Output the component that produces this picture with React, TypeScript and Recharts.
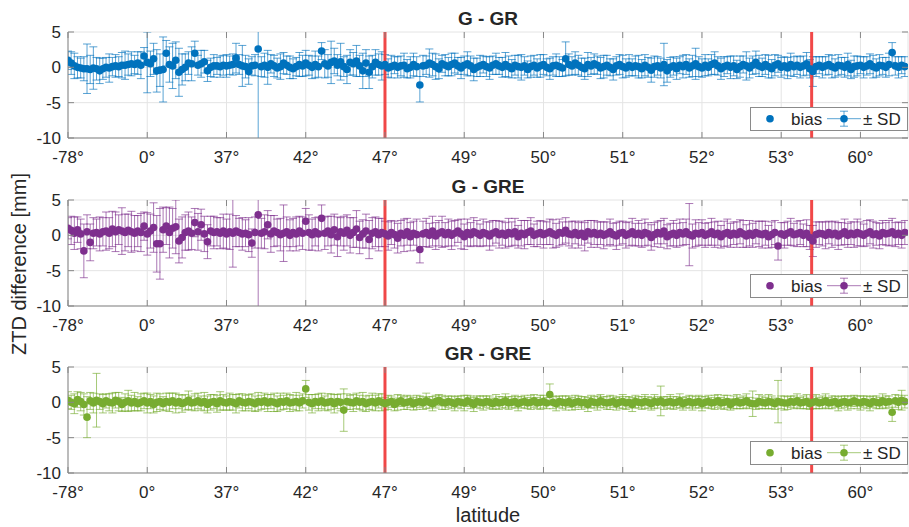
import React from 'react';
import {
  ComposedChart,
  Scatter,
  ErrorBar,
  XAxis,
  YAxis,
  CartesianGrid,
  ReferenceLine,
} from 'recharts';

// station index -> latitude label (every 25th station)
const tickIdx = [1, 26, 51, 76, 101, 126, 151, 176, 201, 226, 251];
const tickLabels = ['-78°', '0°', '37°', '42°', '47°', '49°', '50°', '51°', '52°', '53°', '60°'];
const yTicks = [-10, -5, 0, 5];
const splitIdx = [101, 235.6];
const titles = ['G - GR', 'G - GRE', 'GR - GRE'];
const colors = ['#0072BD', '#7E2F8E', '#77AC30'];

// G - GR
const biasGGR = [
  1.0, 0.6, 0.2, 0.0, -0.1, -0.2, -0.2, -0.3, -0.1, -0.2,
  -0.5, -0.2, 0.0, -0.1, 0.1, 0.2, 0.1, 0.3, 0.3, 0.4,
  0.5, 0.4, 0.6, 0.3, 1.6, 0.7, 0.5, 1.2, -0.5, -0.4,
  -0.3, 2.0, 0.4, 0.2, 1.0, -0.7, -0.3, 0.0, 0.6, 0.5,
  2.0, 0.3, 0.5, 0.8, -0.5, 0.0, 0.2, 0.2, 0.1, 0.3,
  0.2, 0.3, 0.4, 1.3, 0.4, 0.2, 0.1, -0.6, 0.2, 0.3,
  2.6, 0.1, 0.3, 0.0, 0.5, 0.2, -0.1, 0.1, 0.6, 0.3,
  0.0, -0.2, 0.1, 0.4, 0.2, 0.6, 0.3, 0.0, 0.4, 0.1,
  2.3, 0.5, 0.2, 0.7, 0.9, 0.3, 0.8, 0.1, -0.3, 0.7,
  0.5, 0.9, 0.2, -0.5, 0.6, -0.7, 0.1, 0.7, 0.4, 0.2,
  0.4, -0.1, 0.1, 0.3, 0.0, 0.2, 0.3, -0.2, 0.0, 0.4,
  0.1, -2.5, 0.2, 0.3, 0.6, 0.4, 0.1, -0.2, 0.5, 0.3,
  0.1, 0.4, 0.6, 0.2, -0.1, 0.3, 0.5, 0.2, -0.3, 0.0,
  0.2, 0.4, 0.1, -0.1, 0.3, 0.5, 0.2, 0.0, 0.4, 0.1,
  -0.2, 0.3, 0.1, 0.0, 0.2, -0.3, 0.1, 0.3, -0.1, 0.2,
  0.4, 0.0, -0.2, 0.2, 0.3, 0.1, -0.1, 1.2, 0.4, 0.2,
  0.6, 0.3, 0.0, -0.2, 0.4, 0.2, 0.5, 0.3, -0.1, 0.1,
  0.3, 0.0, -0.3, 0.2, 0.4, 0.1, -0.1, 0.3, 0.0, 0.2,
  0.1, -0.2, 0.3, 0.0, -0.4, 0.1, 0.2, -0.1, 0.4, -0.5,
  0.0, 0.2, -0.2, 0.3, 0.1, 0.4, -0.1, 0.2, 0.5, 0.1,
  -0.1, 0.3, 0.0, 0.4, 0.6, 0.2, -0.2, 0.1, 0.3, 0.0,
  0.2, -0.3, 0.1, 0.4, 0.2, -0.1, 0.3, 0.7, 0.2, 0.0,
  0.4, 0.1, -0.2, 0.3, 0.5, 0.0, 0.2, -0.1, 0.4, 0.1,
  0.3, 0.0, 0.2, 0.5, -0.2, -0.6, 0.1, 0.3, 0.0, 0.2,
  0.4, 0.1, -0.1, 0.3, 0.2, 0.0, 0.4, -0.3, 0.1, 0.2,
  0.3, 0.0, 0.2, 0.5, 0.1, -0.1, 0.3, 0.2, 0.0, 0.4,
  2.1, 0.2, 0.0, 0.3, 0.1,
];
const sdGGR = [
  1.3, 1.6, 1.8, 1.5, 1.4, 1.7, 3.5, 2.0, 3.0, 1.6,
  1.8, 1.5, 1.4, 2.0, 1.3, 1.6, 1.4, 1.8, 2.0, 1.5,
  1.7, 1.3, 1.6, 1.9, 1.2, 4.3, 1.8, 2.2, 3.0, 2.3,
  4.6, 1.8, 2.5, 3.2, 2.6, 3.4, 2.2, 1.9, 1.6, 2.4,
  1.7, 1.4, 1.9, 1.6, 1.5, 1.3, 1.6, 1.2, 1.5, 1.4,
  1.6, 1.3, 1.5, 2.1, 1.4, 2.9, 1.6, 1.8, 1.3, 1.5,
  15, 1.4, 1.7, 2.4, 1.3, 1.5, 1.4, 1.8, 1.5, 1.3,
  1.6, 1.4, 1.3, 1.7, 1.5, 1.8, 1.4, 1.6, 1.9, 1.5,
  1.2, 2.0, 1.6, 3.0, 1.8, 1.5, 2.6, 1.4, 2.0, 1.8,
  1.6, 2.2, 1.5, 2.5, 1.9, 2.3, 1.6, 1.8, 1.5, 2.0,
  1.4, 1.3, 1.6, 1.2, 1.5, 1.4, 1.7, 1.3, 1.5, 1.6,
  1.4, 2.4, 1.5, 1.3, 2.0, 1.6, 1.8, 1.4, 1.2, 1.5,
  1.3, 1.6, 1.4, 1.2, 1.5, 1.3, 1.7, 1.4, 1.6, 1.3,
  1.5, 1.2, 1.4, 1.6, 1.3, 1.5, 1.2, 1.4, 1.7, 1.5,
  1.3, 1.4, 1.6, 1.8, 1.3, 1.2, 1.5, 1.4, 1.3, 1.6,
  1.4, 1.2, 1.5, 1.3, 1.6, 1.4, 1.2, 2.4, 1.5, 1.3,
  1.6, 1.4, 1.3, 1.5, 1.7, 1.2, 1.4, 1.3, 1.5, 1.6,
  1.4, 1.2, 1.5, 1.3, 1.4, 1.6, 1.3, 1.5, 1.2, 1.4,
  1.6, 1.3, 1.5, 1.4, 1.7, 1.5, 1.3, 1.4, 3.0, 1.6,
  1.4, 1.3, 1.5, 1.2, 1.6, 1.4, 1.3, 1.5, 2.2, 1.4,
  1.3, 1.5, 1.2, 1.4, 1.6, 1.3, 1.5, 1.4, 1.2, 1.6,
  1.4, 1.3, 1.5, 1.2, 2.0, 1.4, 1.3, 1.6, 1.5, 1.3,
  1.4, 1.6, 1.3, 1.5, 1.2, 1.4, 1.3, 1.5, 1.6, 1.4,
  1.3, 1.5, 1.4, 1.6, 1.3, 2.1, 1.4, 1.2, 1.5, 1.3,
  1.4, 1.6, 1.3, 1.5, 1.2, 1.4, 1.6, 1.3, 1.5, 1.4,
  1.2, 1.5, 1.3, 1.4, 1.6, 1.3, 1.5, 1.2, 1.4, 1.6,
  1.4, 1.3, 1.5, 1.2, 1.4,
];

// G - GRE
const biasGGRE = [
  1.0, 0.7, 0.3, 0.8, 0.2, -2.2, 0.5, -1.0, 0.3, 0.4,
  0.2, 0.5, 0.6, 0.3, 0.9, 0.5, 0.8, 0.6, 0.4, 0.7,
  0.5, 0.3, 0.6, 0.4, 1.3, 0.2, 0.6, 1.1, -1.2, -1.2,
  0.8, 1.3, 0.4, 1.0, 1.2, -0.8, -0.3, 0.4, 0.6, 0.3,
  1.8, 0.5, 1.5, 0.2, -0.9, 0.6, 0.4, 0.5, 0.3, 0.6,
  0.2, 0.5, 0.3, 0.6, 0.4, 0.2, 0.3, 0.1, -1.1, 0.4,
  2.9, 0.3, 0.5, 1.5, 0.2, 0.6, 0.4, 0.1, 0.3, 0.5,
  0.0, 0.4, 0.2, 0.6, 0.3, 2.0, 0.4, 0.1, 0.5, 0.2,
  2.4, 0.3, 0.6, 0.1, 0.8, -0.2, 0.5, 0.3, 0.7, 0.0,
  0.4, 0.9, -0.3, 0.2, 0.6, -0.6, 0.3, 0.5, 0.1, 0.4,
  0.2, -0.1, 0.4, 0.1, -0.4, 0.3, 0.0, 0.5, -0.2, 0.3,
  0.1, -2.0, 0.2, 0.4, 0.0, 0.6, -0.1, 0.3, 0.5, 0.1,
  0.4, 0.0, 0.3, 0.6, 0.2, -0.2, 0.4, 0.1, 0.5, 0.3,
  0.0, 0.4, 0.2, -0.1, 0.3, 0.5, 0.1, 0.3, 0.0, 0.4,
  0.2, 0.5, -0.2, 0.3, 0.1, 0.4, 0.6, 0.0, 0.2, 0.4,
  0.1, 0.3, 0.5, 0.2, 0.0, 0.4, 0.3, 0.7, 0.2, 0.1,
  0.4, 0.0, 0.3, -0.2, 0.5, 0.2, 0.4, 0.1, 0.3, 0.0,
  0.2, 0.5, 0.1, -0.1, 0.3, 0.4, 0.0, 0.2, 0.5, 0.1,
  0.3, 0.0, 0.4, 0.2, -0.3, 0.1, 0.4, 0.2, 0.6, -0.2,
  0.1, 0.3, 0.0, 0.4, 0.2, 0.5, 0.1, -0.1, 0.3, 0.2,
  0.4, 0.0, 0.2, 0.5, 0.1, 0.3, -0.2, 0.2, 0.4, 0.0,
  0.3, 0.1, 0.5, 0.2, -0.1, 0.3, 0.0, 0.4, 0.2, 0.1,
  0.3, -0.2, 0.1, 0.4, -1.5, 0.2, 0.0, 0.3, 0.5, 0.1,
  0.2, 0.4, 0.0, 0.3, -0.3, -0.8, 0.1, 0.3, 0.2, 0.0,
  0.4, 0.1, 0.3, -0.1, 0.2, 0.5, 0.0, 0.3, 0.1, 0.4,
  0.2, 0.0, 0.3, 0.5, 0.1, 0.2, -0.1, 0.4, 0.2, 0.3,
  0.5, 0.1, 0.3, 0.0, 0.4,
];
const sdGGRE = [
  1.5, 2.0, 2.3, 1.8, 2.1, 3.8, 2.4, 2.6, 2.2, 1.9,
  2.4, 2.0, 2.7, 2.2, 2.5, 2.8, 2.1, 3.3, 2.6, 2.3,
  2.9, 2.5, 2.2, 2.7, 2.0, 3.0, 2.4, 3.5, 4.0, 5.0,
  3.2, 2.6, 3.6, 2.8, 3.8, 3.1, 2.9, 2.5, 2.7, 2.3,
  2.0, 2.6, 2.2, 2.5, 2.4, 2.1, 2.3, 2.0, 2.2, 2.4,
  2.1, 2.5, 4.8, 2.2, 2.0, 2.3, 1.9, 2.4, 2.0, 2.2,
  15, 2.1, 2.4, 2.0, 2.6, 2.2, 1.9, 2.3, 4.0, 2.1,
  2.2, 2.0, 2.4, 2.1, 2.3, 1.8, 2.5, 2.2, 2.0, 2.4,
  1.9, 2.3, 2.1, 2.6, 2.2, 2.8, 2.0, 2.4, 2.2, 2.5,
  2.1, 2.6, 2.3, 2.0, 2.4, 2.7, 2.2, 2.1, 2.3, 2.0,
  1.8, 2.0, 1.7, 1.9, 2.1, 1.8, 2.3, 1.9, 2.0, 1.7,
  2.2, 1.9, 1.8, 2.0, 1.7, 2.1, 1.9, 1.8, 2.2, 1.7,
  1.9, 2.0, 1.8, 1.6, 2.1, 1.8, 1.9, 1.7, 2.0, 1.8,
  1.6, 1.9, 1.7, 2.0, 1.8, 1.6, 1.9, 1.7, 1.8, 2.0,
  1.7, 1.9, 1.6, 1.8, 2.0, 1.7, 1.9, 1.6, 1.8, 1.7,
  1.9, 1.6, 1.8, 2.0, 1.7, 1.9, 1.6, 1.8, 1.7, 1.9,
  1.6, 1.8, 1.7, 2.0, 1.6, 1.9, 1.7, 1.8, 1.6, 1.9,
  1.7, 1.8, 1.6, 1.9, 1.7, 1.6, 1.8, 1.7, 1.9, 1.6,
  1.8, 1.7, 1.9, 1.6, 1.8, 1.7, 1.6, 1.9, 1.8, 1.7,
  1.6, 1.8, 1.7, 1.9, 1.6, 1.8, 4.4, 1.7, 1.9, 1.6,
  1.8, 1.7, 1.6, 1.9, 1.8, 1.7, 1.6, 1.8, 1.9, 1.7,
  1.6, 1.8, 1.7, 1.9, 1.6, 1.8, 1.7, 1.6, 1.8, 1.9,
  1.7, 1.6, 1.8, 1.7, 2.0, 1.6, 1.8, 1.7, 1.9, 1.6,
  1.8, 1.7, 1.6, 1.9, 1.7, 2.2, 1.8, 1.6, 1.7, 1.9,
  1.6, 1.8, 1.7, 1.9, 1.6, 1.8, 1.7, 1.6, 1.8, 1.9,
  1.7, 1.6, 1.8, 1.7, 1.9, 1.6, 1.8, 1.7, 1.6, 1.8,
  1.9, 1.7, 1.6, 1.8, 1.7,
];

// GR - GRE
const biasGRGRE = [
  0.3, 0.0, -0.2, 0.4, 0.1, -0.3, -2.1, 0.2, -0.1, 0.3,
  0.1, -0.2, 0.2, 0.0, -0.1, 0.3, 0.1, -0.3, 0.0, 0.2,
  -0.1, 0.1, -0.2, 0.0, 0.2, -0.1, 0.1, -0.3, 0.0, 0.1,
  -0.2, 0.1, 0.0, 0.2, -0.1, 0.1, -0.2, 0.0, 0.3, -0.1,
  0.0, 0.2, -0.1, 0.1, -0.3, 0.0, 0.1, -0.2, 0.2, 0.0,
  -0.1, 0.1, 0.0, -0.2, 0.2, 0.0, -0.1, 0.1, 0.0, -0.2,
  0.1, 0.0, 0.2, -0.1, 0.1, 0.0, -0.2, 0.1, 0.0, 0.2,
  -0.1, 0.0, 0.1, -0.1, 0.2, 1.9, 0.0, -0.2, 0.1, 0.0,
  0.2, -0.1, 0.0, 0.1, -0.2, 0.1, 0.0, -1.1, 0.1, 0.0,
  -0.1, 0.2, 0.0, 0.1, -0.2, 0.0, 0.1, -0.1, 0.2, 0.0,
  -0.2, 0.0, 0.1, -0.3, 0.0, 0.2, -0.1, 0.0, 0.1, -0.2,
  0.0, 0.1, -0.1, 0.2, 0.0, -0.2, 0.1, 0.3, 0.0, -0.1,
  0.1, 0.0, -0.2, 0.1, 0.0, -0.1, 0.2, 0.0, -0.3, 0.1,
  0.0, -0.1, 0.1, 0.0, -0.2, 0.1, -0.1, 0.0, 0.2, -0.1,
  0.0, 0.1, -0.2, 0.0, 0.1, -0.1, 0.0, 0.2, -0.1, 0.0,
  0.1, -0.1, 1.1, 0.0, -0.2, 0.1, 0.0, -0.1, 0.1, -0.2,
  0.0, 0.1, -0.1, 0.0, -0.3, 0.1, 0.0, -0.1, 0.2, 0.0,
  -0.1, 0.0, 0.1, -0.2, 0.0, 0.1, -0.1, 0.0, -0.3, 0.1,
  0.0, -0.1, 0.1, 0.0, -0.2, 0.1, 0.0, 0.2, -0.1, 0.0,
  0.1, -0.1, 0.0, 0.2, -0.2, 0.0, 0.1, -0.1, 0.0, 0.1,
  -0.2, 0.0, 0.1, -0.1, 0.0, 0.2, -0.1, 0.0, 0.1, -0.3,
  0.0, 0.1, -0.1, 0.0, 0.2, -0.1, -0.2, -0.2, 0.1, 0.0,
  -0.1, 0.1, 0.0, -0.2, 0.1, 0.0, -0.1, -0.1, 0.1, 0.0,
  0.2, -0.1, 0.0, 0.1, -0.2, 0.0, 0.1, -0.1, 0.0, 0.2,
  -0.1, 0.0, 0.1, -0.2, 0.0, 0.1, -0.1, 0.0, 0.2, 0.0,
  -0.1, 0.1, 0.0, -0.2, 0.1, 0.0, -0.1, 0.2, 0.0, 0.1,
  -1.4, 0.2, 0.0, 0.3, 0.1,
];
const sdGRGRE = [
  1.2, 1.0, 1.4, 1.1, 1.3, 1.5, 2.9, 1.2, 1.4, 3.8,
  1.1, 1.3, 1.0, 1.2, 1.4, 1.1, 1.3, 1.0, 1.2, 1.5,
  1.1, 1.3, 1.0, 1.2, 1.1, 1.4, 1.0, 1.2, 1.3, 1.1,
  1.0, 1.2, 1.3, 1.1, 1.4, 1.0, 1.2, 1.1, 1.3, 1.0,
  1.2, 1.1, 1.0, 1.3, 1.2, 1.1, 1.0, 1.2, 1.3, 1.1,
  1.0, 1.2, 1.1, 1.3, 1.0, 1.2, 1.1, 1.0, 1.2, 1.1,
  1.3, 1.0, 1.1, 1.2, 1.0, 1.3, 1.1, 1.2, 1.0, 1.1,
  1.2, 1.0, 1.3, 1.1, 1.0, 1.2, 1.1, 1.3, 1.0, 1.2,
  1.1, 1.0, 1.2, 1.1, 1.3, 1.0, 1.2, 3.0, 1.1, 1.0,
  1.2, 1.1, 1.0, 1.3, 1.1, 1.0, 1.2, 1.1, 1.0, 1.2,
  0.9, 1.0, 0.8, 0.9, 1.1, 0.8, 0.9, 1.0, 0.8, 0.9,
  1.0, 0.8, 0.9, 1.1, 0.8, 1.0, 0.9, 0.8, 1.0, 0.9,
  0.8, 0.9, 1.0, 0.8, 0.9, 1.1, 0.8, 0.9, 1.0, 0.8,
  0.9, 1.0, 0.8, 0.9, 0.8, 1.0, 0.9, 0.8, 1.0, 0.9,
  0.8, 0.9, 1.0, 0.8, 0.9, 0.8, 1.0, 0.9, 0.8, 1.0,
  0.9, 0.8, 1.5, 0.9, 1.0, 0.8, 0.9, 1.0, 0.8, 0.9,
  1.0, 0.8, 0.9, 0.8, 1.0, 0.9, 0.8, 1.0, 0.9, 0.8,
  0.9, 1.0, 0.8, 0.9, 0.8, 1.0, 0.9, 0.8, 1.0, 0.9,
  0.8, 0.9, 1.0, 0.8, 0.9, 1.0, 0.8, 2.1, 0.9, 0.8,
  1.0, 0.9, 0.8, 1.0, 0.9, 0.8, 0.9, 1.0, 0.8, 0.9,
  1.0, 0.8, 0.9, 0.8, 1.0, 0.9, 0.8, 1.0, 0.9, 0.8,
  0.9, 1.0, 0.8, 0.9, 1.0, 0.8, 1.8, 0.8, 1.0, 0.9,
  0.8, 1.0, 0.9, 0.8, 3.0, 0.9, 1.0, 0.9, 0.8, 0.9,
  1.0, 0.8, 0.9, 1.0, 0.8, 0.9, 1.0, 0.8, 0.9, 1.0,
  0.8, 0.9, 0.8, 1.0, 0.9, 0.8, 1.0, 0.9, 0.8, 0.9,
  1.0, 0.8, 0.9, 1.0, 0.8, 0.9, 0.8, 1.0, 0.9, 0.8,
  1.3, 0.9, 1.0, 1.4, 0.9,
];

const panels = [
  { bias: biasGGR, sd: sdGGR },
  { bias: biasGGRE, sd: sdGGRE },
  { bias: biasGRGRE, sd: sdGRGRE },
];

const FONT = '"Liberation Sans", Arial, Helvetica, sans-serif';
const AXIS = '#878787';
const TEXT = '#262626';
const W = 909;
const LEFT = 68;
const PLOT_W = 840;
const PLOT_H = 106;
const TOP_M = 32;
const X_H = 30;
const PANEL_STEP = 167.2;
const TICK = 6;

const XTick = (props: any) => {
  const { x, y, payload } = props;
  const i = tickIdx.indexOf(payload.value);
  return (
    <g>
      <line x1={x} x2={x} y1={y} y2={y - TICK} stroke={AXIS} />
      <line x1={x} x2={x} y1={y - PLOT_H} y2={y - PLOT_H + TICK} stroke={AXIS} />
      <text x={x} y={y + 25} textAnchor="middle" fontSize={17} fill={TEXT} fontFamily={FONT}>
        {tickLabels[i]}
      </text>
    </g>
  );
};

const YTick = (props: any) => {
  const { x, y, payload } = props;
  return (
    <g>
      <line x1={x} x2={x + TICK} y1={y} y2={y} stroke={AXIS} />
      <line x1={x + PLOT_W} x2={x + PLOT_W - TICK} y1={y} y2={y} stroke={AXIS} />
      <text x={x - 7} y={y} dy="0.36em" textAnchor="end" fontSize={17} fill={TEXT} fontFamily={FONT}>
        {payload.value}
      </text>
    </g>
  );
};

function LegendBox({ color }: { color: string }) {
  const cy = 11.7;
  return (
    <svg width={158} height={24} style={{ display: 'block' }}>
      <rect x={0.5} y={0.5} width={157} height={23} fill="#fff" stroke="#8a8a8a" />
      <circle cx={20} cy={cy} r={3.8} fill={color} />
      <text x={41} y={cy} dy="0.36em" fontSize={17} fill={TEXT} fontFamily={FONT}>bias</text>
      <g stroke={color} strokeOpacity={0.65}>
        <line x1={77} x2={111} y1={cy} y2={cy} />
        <line x1={94} x2={94} y1={cy - 7.5} y2={cy + 7.5} />
        <line x1={90} x2={98} y1={cy - 7.5} y2={cy - 7.5} />
        <line x1={90} x2={98} y1={cy + 7.5} y2={cy + 7.5} />
      </g>
      <circle cx={94} cy={cy} r={3.8} fill={color} />
      <text x={113} y={cy} dy="0.36em" fontSize={17} fill={TEXT} fontFamily={FONT}>± SD</text>
    </svg>
  );
}

function Panel({ idx }: { idx: number }) {
  const { bias, sd } = panels[idx];
  const color = colors[idx];
  const rows = bias.map((b, i) => ({ x: i + 1, y: b, err: sd[i] ?? 0 }));
  const top = 0.3 + idx * PANEL_STEP;
  return (
    <div
      className="panel"
      style={{ position: 'absolute', left: 0, top, width: W, height: TOP_M + PLOT_H + X_H }}
    >
      <ComposedChart
        width={W}
        height={TOP_M + PLOT_H + X_H}
        data={rows}
        margin={{ top: TOP_M, right: 1, bottom: 0, left: 0 }}
      >
        <CartesianGrid stroke="#e4e4e4" strokeWidth={1} />
        <XAxis
          dataKey="x"
          type="number"
          domain={[1, 266]}
          ticks={tickIdx}
          interval={0}
          allowDataOverflow
          height={X_H}
          tickSize={0}
          tickMargin={0}
          tickLine={false}
          axisLine={{ stroke: AXIS }}
          tick={<XTick />}
        />
        <XAxis
          xAxisId="top"
          orientation="top"
          type="number"
          domain={[1, 266]}
          height={0}
          tick={false}
          tickLine={false}
          axisLine={{ stroke: AXIS }}
        />
        <YAxis
          type="number"
          domain={[-10, 5]}
          ticks={yTicks}
          interval={0}
          allowDataOverflow
          width={LEFT}
          tickSize={0}
          tickMargin={0}
          tickLine={false}
          axisLine={{ stroke: AXIS }}
          tick={<YTick />}
        />
        <YAxis
          yAxisId="right"
          orientation="right"
          type="number"
          domain={[-10, 5]}
          width={0}
          tick={false}
          tickLine={false}
          axisLine={{ stroke: AXIS }}
        />
        <Scatter
          dataKey="y"
          isAnimationActive={false}
          shape={(p: any) => <circle cx={p.cx} cy={p.cy} r={3.8} fill={color} />}
        >
          <ErrorBar
            dataKey="err"
            direction="y"
            width={4}
            stroke={color}
            strokeOpacity={0.65}
            strokeWidth={1}
            isAnimationActive={false}
          />
        </Scatter>
        {splitIdx.map((s) => (
          <ReferenceLine key={s} x={s} stroke="#ef3434" strokeWidth={3} strokeOpacity={0.9} />
        ))}
      </ComposedChart>
      <div style={{ position: 'absolute', left: 750, top: TOP_M + 74.6 }}>
        <LegendBox color={color} />
      </div>
    </div>
  );
}

export default function App() {
  return (
    <div style={{ position: 'absolute', left: 0, top: 0, width: W, height: 527, background: '#fff', fontFamily: FONT }}>
      <style>{`.panel .recharts-errorBar { clip-path: url(#plotClip); }`}</style>
      <svg width={0} height={0} style={{ position: 'absolute' }}>
        <defs>
          <clipPath id="plotClip" clipPathUnits="userSpaceOnUse">
            <rect x={LEFT} y={TOP_M} width={PLOT_W} height={PLOT_H} />
          </clipPath>
        </defs>
      </svg>
      {titles.map((_, i) => (
        <Panel key={i} idx={i} />
      ))}
      <svg
        width={W}
        height={527}
        style={{ position: 'absolute', left: 0, top: 0, pointerEvents: 'none' }}
      >
        {titles.map((t, i) => (
          <text
            key={t}
            x={LEFT + PLOT_W / 2}
            y={0.3 + i * PANEL_STEP + TOP_M - 7}
            textAnchor="middle"
            fontSize={19}
            fontWeight="bold"
            fill={TEXT}
            fontFamily={FONT}
          >
            {t}
          </text>
        ))}
        <text
          x={LEFT + PLOT_W / 2}
          y={522}
          textAnchor="middle"
          fontSize={20}
          fill={TEXT}
          fontFamily={FONT}
        >
          latitude
        </text>
        <text
          transform="translate(26 264) rotate(-90)"
          textAnchor="middle"
          fontSize={20}
          fill={TEXT}
          fontFamily={FONT}
        >
          ZTD difference [mm]
        </text>
      </svg>
    </div>
  );
}
